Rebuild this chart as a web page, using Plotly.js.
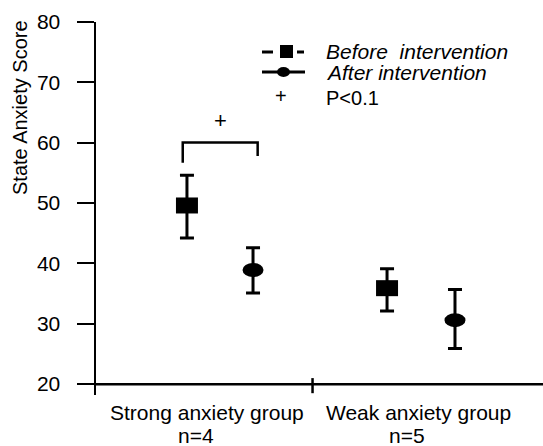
<!DOCTYPE html>
<html>
<head>
<meta charset="utf-8">
<script src="https://cdn.plot.ly/plotly-3.0.1.min.js"></script>
<style>html,body{margin:0;padding:0;background:#fff;}#chart{width:543px;height:446px;}</style>
</head>
<body>
<div id="chart"></div>
<script>
// ---- data ----
const groups = ['Strong anxiety group', 'Weak anxiety group'];
const groupN = ['n=4', 'n=5'];
const groupPos = [0, 1];
const beforeMean  = [49.6, 35.9];
const beforeUpper = [54.6, 39.1];
const beforeLower = [44.2, 32.1];
const afterMean   = [38.9, 30.6];
const afterUpper  = [42.6, 35.7];
const afterLower  = [35.1, 25.9];
const beforeOffset = [-0.095, -0.147];
const afterOffset  = [0.218, 0.175];
const yTicks = [20, 30, 40, 50, 60, 70, 80];
const seriesNames = ['Before  intervention', 'After intervention'];
const sigLabel = 'P&lt;0.1';
const sigMark = '+';
const bracketTop = 60.05, bracketLeftEnd = 56.7, bracketRightEnd = 57.8, sigMarkY = 63.6;

// ---- layout helpers ----
const W = 543, H = 446, ML = 96, MT = 22, MB = 51, MR = 0;
const PW = W - ML - MR, PH = H - MT - MB;
const px = v => (v - ML) / PW;
const py = v => (H - MB - v) / PH;
const FONT = 'Liberation Sans, Arial, sans-serif';

const bx = groupPos.map((g, i) => g + beforeOffset[i]);
const ax = groupPos.map((g, i) => g + afterOffset[i]);

function errTrace(x, m, up, lo) {
  return {
    type: 'scatter', mode: 'markers', x: x, y: m, showlegend: false, hoverinfo: 'skip',
    marker: {size: 2, color: '#000'},
    error_y: {type: 'data', symmetric: false,
      array: m.map((v, i) => up[i] - v), arrayminus: m.map((v, i) => v - lo[i]),
      color: '#000', thickness: 3, width: 7}
  };
}
const traces = [errTrace(bx, beforeMean, beforeUpper, beforeLower),
                errTrace(ax, afterMean, afterUpper, afterLower)];

const shapes = [];
// x axis line at y=20 and group divider tick
shapes.push({type: 'line', xref: 'paper', yref: 'y', x0: 0, x1: 1, y0: 20, y1: 20, line: {color: '#000', width: 2.5}});
shapes.push({type: 'line', xref: 'x', yref: 'y', x0: 0.5, x1: 0.5, y0: 18.5, y1: 21.0, line: {color: '#000', width: 2.5}});
// markers anchored at data values
bx.forEach((x, i) => shapes.push({type: 'rect', xref: 'x', yref: 'y', xsizemode: 'pixel', ysizemode: 'pixel',
  xanchor: x, yanchor: beforeMean[i], x0: -11, x1: 11, y0: -8, y1: 8, fillcolor: '#000', line: {width: 0}}));
ax.forEach((x, i) => shapes.push({type: 'circle', xref: 'x', yref: 'y', xsizemode: 'pixel', ysizemode: 'pixel',
  xanchor: x, yanchor: afterMean[i], x0: -10.5, x1: 10.5, y0: -7, y1: 7, fillcolor: '#000', line: {width: 0}}));
// significance bracket
const bl = bx[0] - 0.02, br = ax[0] + 0.022;
shapes.push({type: 'path', xref: 'x', yref: 'y',
  path: `M ${bl},${bracketLeftEnd} L ${bl},${bracketTop} L ${br},${bracketTop} L ${br},${bracketRightEnd}`,
  line: {color: '#000', width: 2.5}});
// legend symbols
shapes.push({type: 'line', xref: 'paper', yref: 'paper', x0: px(262), x1: px(273), y0: py(52), y1: py(52), line: {color: '#000', width: 3}});
shapes.push({type: 'line', xref: 'paper', yref: 'paper', x0: px(297), x1: px(304), y0: py(52), y1: py(52), line: {color: '#000', width: 3}});
shapes.push({type: 'rect', xref: 'paper', yref: 'paper', x0: px(280), x1: px(293), y0: py(45), y1: py(58), fillcolor: '#000', line: {width: 0}});
shapes.push({type: 'line', xref: 'paper', yref: 'paper', x0: px(262), x1: px(305), y0: py(72), y1: py(72), line: {color: '#000', width: 3}});
shapes.push({type: 'circle', xref: 'paper', yref: 'paper', x0: px(277), x1: px(290), y0: py(67), y1: py(77), fillcolor: '#000', line: {width: 0}});

const annotations = [];
groups.forEach((g, i) => {
  annotations.push({xref: 'x', yref: 'paper', x: groupPos[i], y: py(412), text: g, showarrow: false,
    xanchor: 'center', yanchor: 'middle', font: {family: FONT, size: 21, color: '#000'}});
  annotations.push({xref: 'x', yref: 'paper', x: groupPos[i], y: py(435), xshift: -11, text: groupN[i], showarrow: false,
    xanchor: 'center', yanchor: 'middle', borderpad: 0, font: {family: FONT, size: 21, color: '#000'}});
});
annotations.push({xref: 'paper', yref: 'paper', x: px(20), y: py(108), text: 'State Anxiety Score', textangle: -90,
  showarrow: false, xanchor: 'center', yanchor: 'middle', font: {family: FONT, size: 20, color: '#000'}});
annotations.push({xref: 'paper', yref: 'paper', x: px(324), y: py(51), text: '<i>' + seriesNames[0] + '</i>', showarrow: false,
  xanchor: 'left', yanchor: 'middle', font: {family: FONT, size: 21, color: '#000'}});
annotations.push({xref: 'paper', yref: 'paper', x: px(324), y: py(72), text: '<i>' + seriesNames[1] + '</i>', showarrow: false,
  xanchor: 'left', yanchor: 'middle', font: {family: FONT, size: 21, color: '#000'}});
annotations.push({xref: 'paper', yref: 'paper', x: px(281), y: py(96), text: sigMark, showarrow: false,
  xanchor: 'center', yanchor: 'middle', font: {family: FONT, size: 20, color: '#000'}});
annotations.push({xref: 'paper', yref: 'paper', x: px(324), y: py(98), text: sigLabel, showarrow: false,
  xanchor: 'left', yanchor: 'middle', font: {family: FONT, size: 20, color: '#000'}});
annotations.push({xref: 'x', yref: 'y', x: (bl + br) / 2, y: sigMarkY, text: sigMark, showarrow: false,
  xanchor: 'center', yanchor: 'middle', font: {family: FONT, size: 22, color: '#000'}});

const layout = {
  width: W, height: H,
  margin: {l: ML, r: MR, t: MT, b: MB, pad: 0},
  paper_bgcolor: '#fff', plot_bgcolor: '#fff',
  showlegend: false,
  font: {family: FONT, size: 20, color: '#000'},
  xaxis: {range: [-0.526, 1.592], visible: false, fixedrange: true},
  yaxis: {range: [18.2, 80], tickvals: yTicks, ticktext: yTicks.map(String),
    showline: true, linecolor: '#000', linewidth: 2.5, ticks: 'outside', ticklen: 17, tickwidth: 2,
    tickcolor: '#000', showgrid: false, zeroline: false, ticklabelstandoff: 12,
    tickfont: {family: FONT, size: 21, color: '#000'}, fixedrange: true},
  shapes: shapes,
  annotations: annotations
};
Plotly.newPlot('chart', traces, layout, {displayModeBar: false, staticPlot: true});
</script>
</body>
</html>
